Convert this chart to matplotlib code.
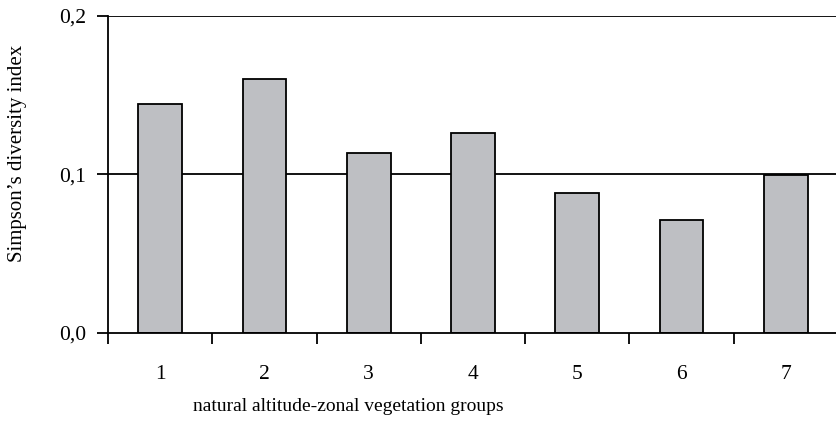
import matplotlib
matplotlib.use("Agg")
import matplotlib.pyplot as plt
import numpy as np

categories = ["1", "2", "3", "4", "5", "6", "7"]
values = [0.1445, 0.160, 0.1135, 0.126, 0.0885, 0.0715, 0.0998]
yticks = [0.0, 0.1, 0.2]
ytick_labels = ["0,0", "0,1", "0,2"]

plt.rcParams['font.family'] = ['Liberation Serif', 'DejaVu Serif']

fig = plt.figure(figsize=(8.36, 4.23), dpi=100)
ax = fig.add_axes([108/836, 90/423, 730/836, 317/423])

x = np.arange(len(categories))
ax.bar(x, values, width=0.42, color="#BEBFC3", edgecolor="black", linewidth=1.3, zorder=3)

ax.set_xlim(-0.5, len(categories) - 0.5)
ax.set_ylim(0, 0.2)
ax.set_yticks(yticks)
ax.set_yticklabels(ytick_labels, fontsize=15.5)
for yv in yticks[1:]:
    ax.axhline(yv, color="black", linewidth=1.3, zorder=1)

ax.set_xticks(np.arange(len(categories) + 1) - 0.5, minor=False)
ax.set_xticklabels([])
ax.set_xticks(x, minor=True)
ax.set_xticklabels(categories, minor=True, fontsize=15.5)
ax.tick_params(axis='x', which='major', direction='out', length=8, width=1.3, color='black')
ax.tick_params(axis='x', which='minor', length=0, pad=23)
ax.tick_params(axis='y', direction='out', length=8, width=1.3, pad=8)

for s in ["top", "right"]:
    ax.spines[s].set_visible(False)
for s in ["left", "bottom"]:
    ax.spines[s].set_linewidth(1.3)
    ax.spines[s].set_zorder(4)

ax.set_ylabel("Simpson\u2019s diversity index", fontsize=15)
ax.yaxis.set_label_coords((27 - 108) / 730, 0.568)
ax.set_xlabel("natural altitude-zonal vegetation groups", fontsize=14)
ax.xaxis.set_label_coords((348 - 108) / 730, (333 - 398) / 317)

fig.savefig("out.png", dpi=100)
